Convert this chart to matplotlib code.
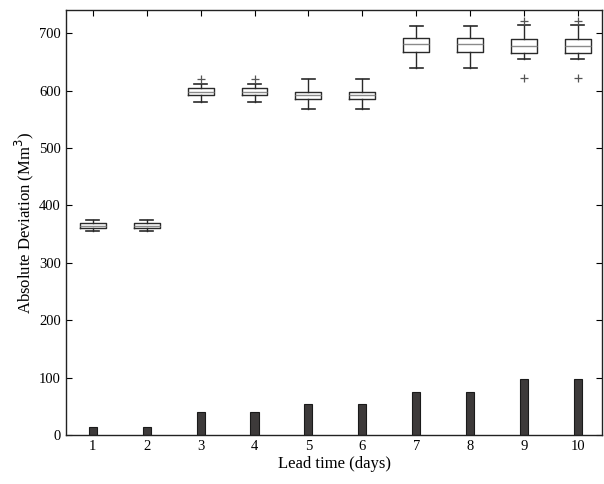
import numpy as np
import matplotlib
matplotlib.use("Agg")
import matplotlib.pyplot as plt

plt.rcParams['font.family'] = ['Liberation Serif', 'DejaVu Serif']

# lead time in days
days = np.arange(1, 11)

# bar heights (Mm^3)
bar_vals = [15, 15, 40, 40, 55, 55, 75, 75, 97, 97]

# boxplot statistics
q1 = [361, 361, 592, 592, 586, 586, 668, 668, 666, 666]
med = [365, 365, 598, 598, 592, 592, 681, 681, 677, 677]
q3 = [369, 369, 604, 604, 598, 598, 692, 692, 689, 689]
wlo = [355, 355, 580, 580, 568, 568, 640, 640, 655, 655]
whi = [374, 374, 612, 612, 621, 621, 712, 712, 714, 714]
fliers = [[], [], [621], [621], [], [], [], [], [722, 622], [722, 622]]

stats = []
for i in range(len(days)):
    stats.append(dict(med=med[i], q1=q1[i], q3=q3[i], whislo=wlo[i],
                      whishi=whi[i], fliers=fliers[i]))

fig = plt.figure(figsize=(6.04, 4.84), dpi=100)
ax = fig.add_axes([0.109, 0.101, 0.888, 0.878])

ax.bar(days, bar_vals, width=0.15, color='#3d3a3a', edgecolor='#1a1a1a', linewidth=0.8, zorder=2)

ax.bxp(stats, positions=days, widths=0.48, patch_artist=False, manage_ticks=False,
       boxprops=dict(color='#2a2a2a', linewidth=1.0),
       medianprops=dict(color='#8a8a8a', linewidth=1.0),
       whiskerprops=dict(color='#2a2a2a', linewidth=1.0),
       capprops=dict(color='#2a2a2a', linewidth=1.2),
       capwidths=0.24,
       flierprops=dict(marker='+', markeredgecolor='#555555', markersize=6, markeredgewidth=0.9))

ax.set_xlim(0.5, 10.45)
ax.set_ylim(0, 740)
ax.set_xticks(days)
ax.set_yticks(np.arange(0, 701, 100))
ax.tick_params(direction='in', top=True, right=True, labelsize=10.5, length=4, width=0.8)
for s in ax.spines.values():
    s.set_linewidth(1.0)
    s.set_color('#222222')

ax.set_xlabel('Lead time (days)', fontsize=12, labelpad=2)
ax.set_ylabel('Absolute Deviation (Mm$^3$)', fontsize=12, labelpad=2)

fig.savefig('out.png', dpi=100)
